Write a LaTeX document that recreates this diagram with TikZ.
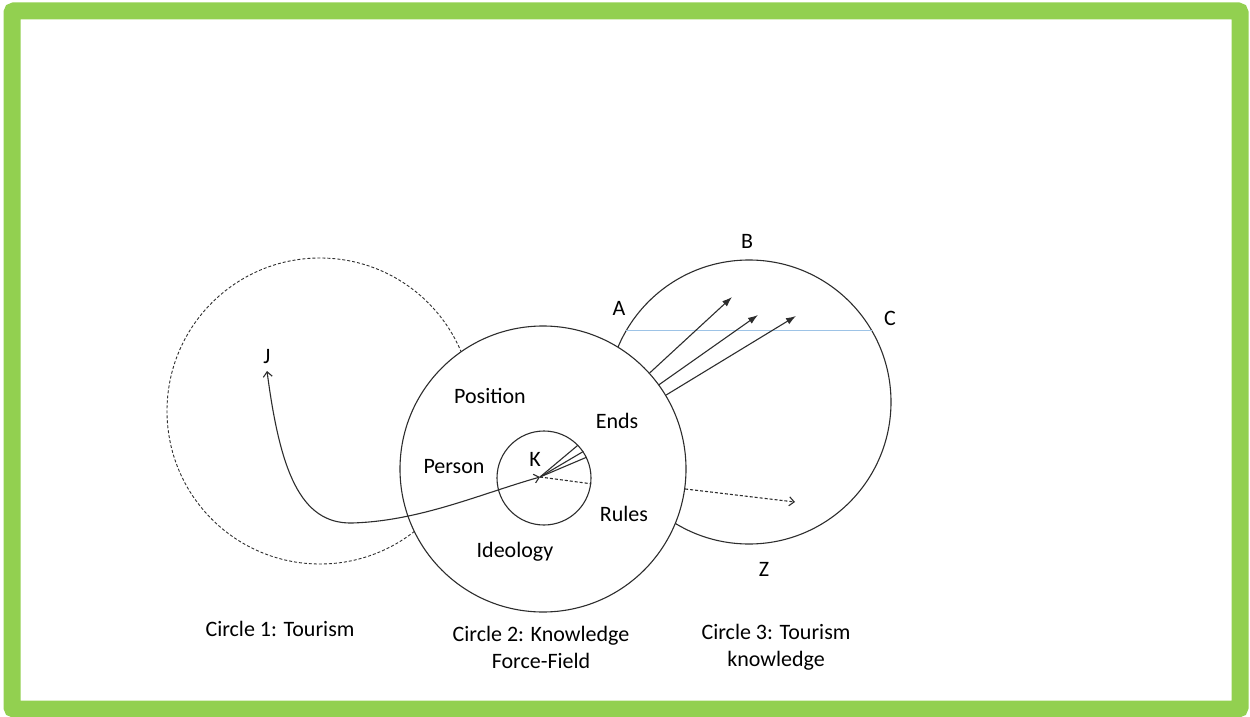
\documentclass[tikz,border=0pt]{standalone}
\usepackage{fontspec}
\setmainfont{Carlito}
\usepackage{tikz}
\usetikzlibrary{arrows.meta}

\definecolor{framegreen}{RGB}{146,208,80}
\definecolor{chordblue}{RGB}{157,195,230}
\definecolor{inkgray}{RGB}{45,45,45}

\tikzset{
  ring/.style={circle, draw=inkgray, line width=1.1pt, inner sep=0pt},
  lbl/.style={inner sep=0.75pt, text=black, font=\fontsize{22}{27}\selectfont},
  flow/.style={draw=inkgray, line width=1.1pt},
  openhead/.style={-{Straight Barb[length=5pt,width=9pt]}},
  fullhead/.style={-{Latex[length=10pt,width=7pt]}}
}

\begin{document}
\begin{tikzpicture}[x=1pt,y=-1pt]
        \useasboundingbox (0,0) rectangle (1250,717);
        %frame
        \draw [framegreen, line width=17pt, rounded corners=2pt] (12,11) rectangle (1240,709) ;

        %Circles
        \node [ring, minimum size=284pt] (tkn) at (749,402) {};
        \node [ring, minimum size=306pt, dash pattern=on 3pt off 2pt, line width=0.9pt] (tour) at (320,411) {};
        \node [ring, minimum size=286pt, fill=white] (field) at (543,469) {};
        \node [ring, minimum size=94pt] (core) at (544,478) {};

        %chord A--C
        \draw [chordblue, line width=1.4pt] (tkn.150) -- (tkn.30) ;

        \coordinate (kpt) at (540,477);
        \coordinate (jtip) at (267,371);
        \coordinate (zend) at (795,502);
        \coordinate (out1) at (732,297);
        \coordinate (out2) at (758,315);
        \coordinate (out3) at (796,316);

        %Straight Lines inside K
        \draw [flow] (kpt) -- (core.44) ;
        \draw [flow] (kpt) -- (core.34) ;
        \draw [flow] (kpt) -- (core.26) ;
        \draw [flow, dash pattern=on 3pt off 2pt] (kpt) -- (core.-7) ;

        %Straight Lines out of the field
        \draw [flow, fullhead] (field.42) -- (out1) ;
        \draw [flow, fullhead] (field.36.5) -- (out2) ;
        \draw [flow, fullhead] (field.31) -- (out3) ;
        \draw [flow, openhead, dash pattern=on 3pt off 2pt] (field.-8.5) -- (zend) ;

        %Curve J--K
        \draw [flow, {Straight Barb[length=5pt,width=9pt]}-{Straight Barb[length=5pt,width=9pt]}] (jtip) .. controls (280,470) and (300,524) .. (352,523) .. controls (420,521) and (480,494) .. (kpt) ;

        % Text Node
        \node [lbl] (pos) at (490,396) {Position};
        \node [lbl] (ends) at (617,421) {Ends};
        \node [lbl] (pers) at (454,467) {Person};
        \node [lbl] (klbl) at (535,459) {K};
        \node [lbl] (rules) at (624,514) {Rules};
        \node [lbl] (ideo) at (515,552) {Ideology};
        \node [lbl] (jlbl) at (267,357) {J};
        \node [lbl] (albl) at (619,308) {A};
        \node [lbl] (blbl) at (747,241) {B};
        \node [lbl] (clbl) at (890,318) {C};
        \node [lbl] (zlbl) at (764,569) {Z};
        \node [lbl] (cap1) at (280,629) {Circle 1: Tourism};
        \node [lbl, align=center] (cap2) at (541,647) {Circle 2: Knowledge\\Force-Field};
        \node [lbl, align=center] (cap3) at (776,647) {Circle 3: Tourism\\knowledge};
\end{tikzpicture}
\end{document}
